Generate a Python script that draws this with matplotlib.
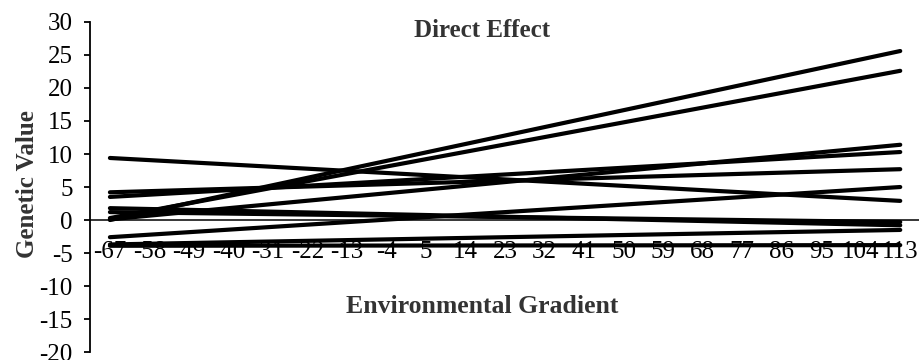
import matplotlib
matplotlib.use("Agg")
import matplotlib.pyplot as plt

# environmental gradient categories (x axis)
gradient = [-67, -58, -49, -40, -31, -22, -13, -4, 5, 14, 23,
            32, 41, 50, 59, 68, 77, 86, 95, 104, 113]

# reaction norms: genetic value at the two ends of the gradient
start_vals = [0.0, 0.3, 9.4, 4.2, 3.5, 0.1, -2.6, 1.8, 1.2, -3.7, -3.9]
end_vals = [25.6, 22.6, 2.9, 7.7, 10.3, 11.4, 5.0, -0.8, -0.3, -1.5, -3.8]

plt.rcParams['font.family'] = ['Liberation Serif', 'DejaVu Serif']
plt.rcParams['axes.unicode_minus'] = False

fig = plt.figure(figsize=(9.2, 3.6), dpi=100)
ax = fig.add_axes([0.098, 0.022, 0.902, 0.917])

step = gradient[1] - gradient[0]
ax.set_xlim(gradient[0] - step / 2, gradient[-1] + step / 2)
ax.set_ylim(-20, 30)

for s, e in zip(start_vals, end_vals):
    ax.plot([gradient[0], gradient[-1]], [s, e], color='black', lw=3,
            solid_capstyle='round', zorder=3)

# category axis crosses at zero
ax.axhline(0, color='black', lw=1.1, zorder=2)

for sp in ['top', 'right', 'bottom']:
    ax.spines[sp].set_visible(False)
ax.spines['left'].set_linewidth(1.3)
ax.set_xticks([])
ax.set_yticks(range(-20, 31, 5))
ax.tick_params(axis='y', direction='out', length=4.5, width=1.3, pad=8,
               labelsize=18)

for g in gradient:
    ax.text(g, -4.9, str(g), ha='center', va='center', fontsize=18,
            color='black')

ax.text(0.472, 0.973, 'Direct Effect', transform=ax.transAxes, ha='center',
        va='center', fontsize=18, fontweight='bold', color='#333333')
ax.text(0.472, 0.139, 'Environmental Gradient', transform=ax.transAxes,
        ha='center', va='center', fontsize=18.5, fontweight='bold',
        color='#333333')
fig.text(0.030, 0.49, 'Genetic Value', rotation=90, ha='center',
         va='center', fontsize=18, fontweight='bold', color='#333333')

fig.savefig('out.png', dpi=100)
